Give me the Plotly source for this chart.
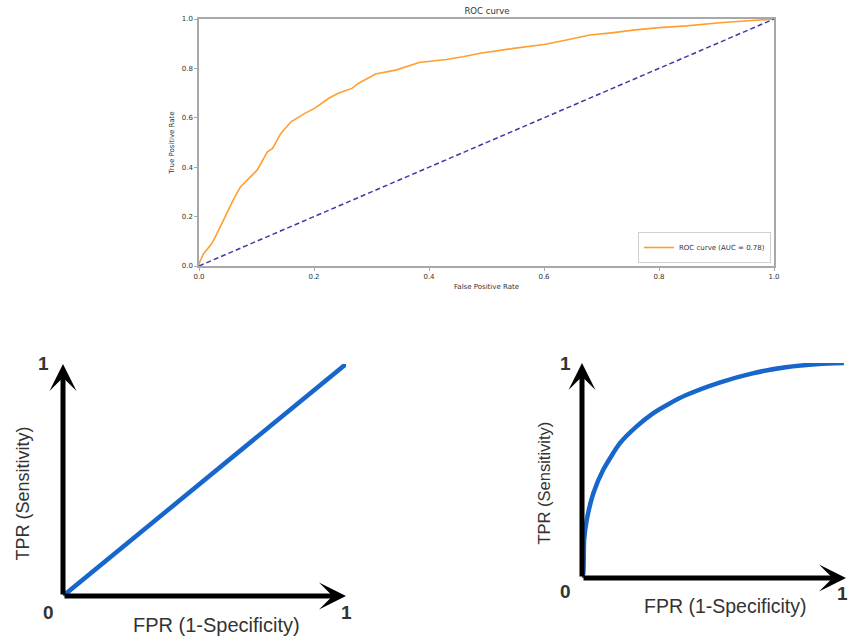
import plotly.graph_objects as go

OFF = 0
W, H = 848, 638

# ---------------- data ----------------
# Top: empirical ROC curve
roc_fpr = [0.0, 0.0, 0.008, 0.022, 0.031, 0.043, 0.052, 0.060, 0.072, 0.087, 0.101, 0.119,
           0.128, 0.142, 0.160, 0.184, 0.201, 0.225, 0.242, 0.266, 0.277, 0.307, 0.342,
           0.383, 0.430, 0.459, 0.489, 0.547, 0.600, 0.639, 0.680, 0.721, 0.755, 0.800,
           0.848, 0.906, 0.952, 0.992, 1.0]
roc_tpr = [0.0, 0.01, 0.05, 0.09, 0.13, 0.19, 0.23, 0.27, 0.32, 0.354, 0.388, 0.462,
           0.476, 0.536, 0.584, 0.618, 0.638, 0.678, 0.699, 0.719, 0.739, 0.777, 0.793,
           0.824, 0.836, 0.847, 0.861, 0.881, 0.897, 0.915, 0.935, 0.945, 0.955, 0.965,
           0.972, 0.985, 0.993, 1.0, 1.0]
chance_x = [0.0, 1.0]
chance_y = [0.0, 1.0]
auc_label = "ROC curve (AUC = 0.78)"
tick_vals = [0.0, 0.2, 0.4, 0.6, 0.8, 1.0]
tick_text = ["0.0", "0.2", "0.4", "0.6", "0.8", "1.0"]

# Bottom-left: random classifier diagram
rand_x = [0.0, 1.0]
rand_y = [0.0, 1.0]

# Bottom-right: good classifier diagram
good_x = [0.0, 0.005, 0.008, 0.018, 0.043, 0.080, 0.143, 0.206, 0.269, 0.332, 0.395,
          0.521, 0.646, 0.772, 0.898, 0.992]
good_y = [0.0, 0.022, 0.177, 0.27, 0.394, 0.502, 0.626, 0.704, 0.766, 0.812, 0.851,
          0.909, 0.952, 0.980, 0.995, 1.0]

# ---------------- helpers (window pixels -> paper fractions) ----------------
def px(x):
    return (x - OFF) / W

def py(y):
    return 1 - (y - OFF) / H

ORANGE = "#ff9f2e"
NAVY = "#3b3ba6"
BLUE = "#1766cc"
TXT = "#333333"
MPL_FONT = "DejaVu Sans"
ARIAL = "Liberation Sans"

fig = go.Figure()

# ---------------- top ROC chart ----------------
fig.add_trace(go.Scatter(x=roc_fpr, y=roc_tpr, mode="lines", name=auc_label,
                         line=dict(color=ORANGE, width=1.6), xaxis="x", yaxis="y",
                         showlegend=True))
fig.add_trace(go.Scatter(x=chance_x, y=chance_y, mode="lines", name="chance",
                         line=dict(color=NAVY, width=1.5, dash="5px,3px"),
                         xaxis="x", yaxis="y", showlegend=False))

# ---------------- bottom diagrams ----------------
fig.add_trace(go.Scatter(x=rand_x, y=rand_y, mode="lines", showlegend=False,
                         line=dict(color=BLUE, width=4.5), xaxis="x2", yaxis="y2"))
fig.add_trace(go.Scatter(x=good_x, y=good_y, mode="lines", showlegend=False,
                         line=dict(color=BLUE, width=4.5, shape="spline", smoothing=0.6),
                         xaxis="x3", yaxis="y3"))

axis_common = dict(showline=True, mirror=True, linecolor="#a8a8a8", linewidth=1.5,
                   ticks="outside", ticklen=3, tickcolor="#a8a8a8", showgrid=False,
                   zeroline=False, tickvals=tick_vals, ticktext=tick_text,
                   tickfont=dict(family=MPL_FONT, size=7, color=TXT), range=[0, 1],
                   automargin=False)

hidden = dict(visible=False, showgrid=False, zeroline=False, automargin=False)

fig.update_layout(
    width=W, height=H,
    margin=dict(l=0, r=0, t=0, b=0, autoexpand=False),
    paper_bgcolor="white", plot_bgcolor="white",
    title=dict(text="ROC curve", x=px(487), y=py(11), xanchor="center", yanchor="middle",
               font=dict(family=MPL_FONT, size=8.5, color=TXT)),
    xaxis=dict(domain=[px(199), px(774)], anchor="y",
               title=dict(text="False Positive Rate", standoff=4,
                          font=dict(family=MPL_FONT, size=7, color=TXT)),
               **axis_common),
    yaxis=dict(domain=[py(266), py(19)], anchor="x",
               title=dict(text="True Positive Rate", standoff=6,
                          font=dict(family=MPL_FONT, size=7, color=TXT)),
               **axis_common),
    xaxis2=dict(domain=[px(63), px(346)], anchor="y2", range=[0, 1], **hidden),
    yaxis2=dict(domain=[py(596), py(364)], anchor="x2", range=[0, 1], **hidden),
    xaxis3=dict(domain=[px(582), min(1.0, px(846))], anchor="y3", range=[0, 1], **hidden),
    yaxis3=dict(domain=[py(578), py(363)], anchor="x3", range=[0, 1], **hidden),
    legend=dict(x=px(771), y=py(263), xanchor="right", yanchor="bottom",
                bgcolor="white", bordercolor="#d0d0d0", borderwidth=1,
                font=dict(family=MPL_FONT, size=7, color=TXT), itemwidth=30,
                tracegroupgap=0),
)

annotations = []
# arrows (axes of the diagrams)
for xa, ya in (("x2", "y2"), ("x3", "y3")):
    for (tx, ty) in ((1.0, 0.0), (0.0, 1.0)):
        annotations.append(dict(x=tx, y=ty, ax=0.0, ay=0.0, xref=xa, yref=ya,
                                axref=xa, ayref=ya, text="", showarrow=True,
                                arrowhead=3, arrowsize=0.9, arrowwidth=5,
                                arrowcolor="black", standoff=0, startstandoff=0))

def label(text, x, y, size, angle=0, bold=False):
    annotations.append(dict(text=("<b>%s</b>" % text) if bold else text,
                            x=px(x), y=py(y), xref="paper", yref="paper",
                            showarrow=False, textangle=angle,
                            xanchor="center", yanchor="middle",
                            font=dict(family=ARIAL, size=size, color=TXT)))

# bottom-left labels
label("1", 43.5, 363, 19, bold=True)
label("0", 48, 612, 19, bold=True)
label("1", 346, 612, 19, bold=True)
label("FPR (1-Specificity)", 216, 625, 20)
label("TPR (Sensitivity)", 22.5, 494, 18, angle=-90)
# bottom-right labels
label("1", 565, 363, 19, bold=True)
label("0", 565, 591, 19, bold=True)
label("1", 842, 593, 19, bold=True)
label("FPR (1-Specificity)", 725, 606, 19.5)
label("TPR (Sensitivity)", 543.5, 483, 16.5, angle=-90)

fig.update_layout(annotations=annotations)

# remove the default page margin so the 848x638 figure fills the window exactly;
# hide the interactive mode bar (not part of the static chart)
fig.write_html("out.html", config={"displayModeBar": False},
               post_script="document.body.style.margin='0px';")
